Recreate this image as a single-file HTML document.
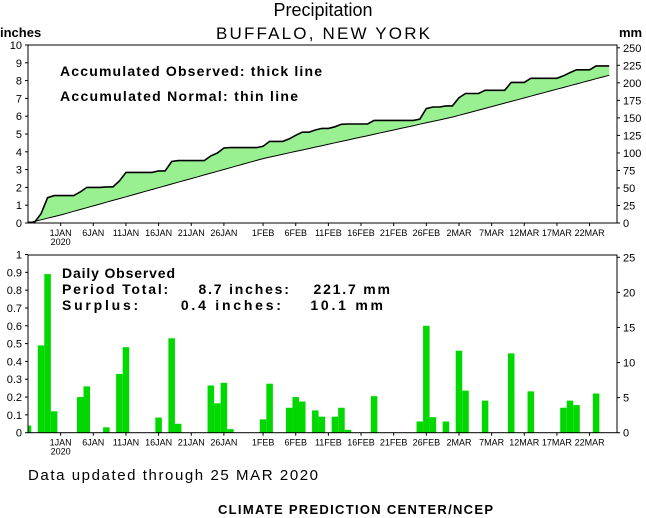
<!DOCTYPE html>
<html><head><meta charset="utf-8"><style>
html,body{margin:0;padding:0;background:#fff;}
svg{display:block;font-family:"Liberation Sans",sans-serif;}
</style></head><body>
<svg id="c" width="646" height="518" viewBox="0 0 646 518">
<text x="323" y="16" font-size="18" text-anchor="middle">Precipitation</text>
<text x="323" y="39" font-size="17" text-anchor="middle" textLength="214">BUFFALO, NEW YORK</text>
<text x="0" y="37" font-size="13" font-weight="bold">inches</text>
<text x="619" y="37" font-size="13" font-weight="bold">mm</text>
<g id="topG"></g>
<g id="botG"></g>
<text x="60" y="76" font-size="14" font-weight="bold" textLength="262">Accumulated Observed: thick line</text>
<text x="60" y="101" font-size="14" font-weight="bold" textLength="238">Accumulated Normal: thin line</text>
<text x="62" y="278" font-size="14" font-weight="bold" textLength="113">Daily Observed</text>
<text x="62" y="294" font-size="14" font-weight="bold" textLength="328" xml:space="preserve">Period Total:     8.7 inches:    221.7 mm</text>
<text x="62" y="310" font-size="14" font-weight="bold" textLength="321" xml:space="preserve">Surplus:      0.4 inches:    10.1 mm</text>
<text x="28" y="480" font-size="15" textLength="290">Data updated through 25 MAR 2020</text>
<text x="218" y="514" font-size="13" font-weight="bold" textLength="275">CLIMATE PREDICTION CENTER/NCEP</text>
</svg>
<script>
// day index 0 = 27 Dec 2019
const dailyDays = [0,2,3,4,8,9,12,14,15,20,22,23,28,29,30,31,36,37,40,41,42,44,45,47,48,49,53,60,61,62,64,66,67,70,74,77,82,83,84,87];
const dailyVals = [0.04,0.49,0.89,0.12,0.20,0.26,0.03,0.33,0.48,0.085,0.53,0.05,0.265,0.165,0.28,0.02,0.075,0.275,0.14,0.20,0.175,0.125,0.09,0.09,0.14,0.016,0.205,0.063,0.60,0.087,0.063,0.46,0.236,0.18,0.445,0.232,0.14,0.18,0.155,0.22];
const normalDays = [0,5,36,65,89];
const normalVals = [0,0.45,3.62,5.95,8.3];
const tickDays = [5,10,15,20,25,30,36,41,46,51,56,61,66,71,76,81,86];
const tickLabels = ["1JAN","6JAN","11JAN","16JAN","21JAN","26JAN","1FEB","6FEB","11FEB","16FEB","21FEB","26FEB","2MAR","7MAR","12MAR","17MAR","22MAR"];
const lastDay = 89;

const NS="http://www.w3.org/2000/svg";
const X0=28, X1=617, DAYW=6.53;
const xs = d => X0 + d*DAYW;
const yTop = v => 223 - v*17.8;
const yBot = v => 432.7 - v*178.2;
function mk(tag, attrs, parent){const e=document.createElementNS(NS,tag);for(const k in attrs)e.setAttribute(k,attrs[k]);parent.appendChild(e);return e;}
const topG=document.getElementById('topG'), botG=document.getElementById('botG');

const cum=[]; let s=0;
for(let d=0; d<=lastDay; d++){const i=dailyDays.indexOf(d); if(i>=0) s+=dailyVals[i]; cum.push(s);}
function normalAt(d){for(let i=1;i<normalDays.length;i++){if(d<=normalDays[i]){const t=(d-normalDays[i-1])/(normalDays[i]-normalDays[i-1]);return normalVals[i-1]+t*(normalVals[i]-normalVals[i-1]);}}return normalVals[normalVals.length-1];}
let obsPts=[], normPts=[];
for(let d=0; d<=lastDay; d++){obsPts.push(xs(d).toFixed(1)+','+yTop(cum[d]).toFixed(1)); normPts.push(xs(d).toFixed(1)+','+yTop(normalAt(d)).toFixed(1));}
const fill=mk('polygon',{points:obsPts.join(' ')+' '+normPts.slice().reverse().join(' '),fill:'#98f090',stroke:'none'},topG);


const nl=mk('polyline',{points:normPts.join(' '),fill:'none',stroke:'#000','stroke-width':1},topG);


const ol=mk('polyline',{points:obsPts.join(' '),fill:'none',stroke:'#000','stroke-width':1.6},topG);



dailyDays.forEach((d,i)=>{
  let l=xs(d)-DAYW/2, r=xs(d)+DAYW/2; if(l<X0)l=X0;
  const b=mk('rect',{x:l,y:yBot(dailyVals[i]),width:r-l,height:432.7-yBot(dailyVals[i]),fill:'#00d800'},botG);
  
  
});

function frame(g, yT, yB, name){
  const r=mk('rect',{x:X0,y:yT,width:X1-X0,height:yB-yT,fill:'none',stroke:'#000','stroke-width':1},g);
  
  
  tickDays.forEach((d,i)=>{
    mk('line',{x1:xs(d),x2:xs(d),y1:yB,y2:yB+3,stroke:'#000'},g);
    const t=mk('text',{x:xs(d),y:yB+13,'font-size':9,'text-anchor':'middle'},g);
    t.textContent=tickLabels[i];
    
    
  });
  const y2=mk('text',{x:xs(5),y:yB+22,'font-size':9,'text-anchor':'middle'},g);
  y2.textContent='2020';
  
  
}
frame(topG,45,223,'top-plot-frame');
frame(botG,255,432.7,'bottom-plot-frame');

for(let v=0; v<=10; v++){
  mk('line',{x1:X0-3,x2:X0,y1:yTop(v),y2:yTop(v),stroke:'#000'},topG);
  const t=mk('text',{x:22,y:yTop(v)+4,'font-size':11,'text-anchor':'end'},topG); t.textContent=v;
  
  
}
for(let v=0; v<=250; v+=25){
  const yy=yTop(v/25.4);
  mk('line',{x1:X1,x2:X1+3,y1:yy,y2:yy,stroke:'#000'},topG);
  const t=mk('text',{x:623,y:yy+4,'font-size':11},topG); t.textContent=v;
  
  
}
for(let i=0; i<=10; i++){
  const v=i/10, yy=yBot(v);
  mk('line',{x1:X0-3,x2:X0,y1:yy,y2:yy,stroke:'#000'},botG);
  const t=mk('text',{x:22,y:yy+4,'font-size':11,'text-anchor':'end'},botG); t.textContent=(i==0?'0':i==10?'1':v.toFixed(1));
  
  
}
for(let v=0; v<=25; v+=5){
  const yy=yBot(v/25.4);
  mk('line',{x1:X1,x2:X1+3,y1:yy,y2:yy,stroke:'#000'},botG);
  const t=mk('text',{x:623,y:yy+4,'font-size':11},botG); t.textContent=v;
  
  
}
</script>
</body></html>
